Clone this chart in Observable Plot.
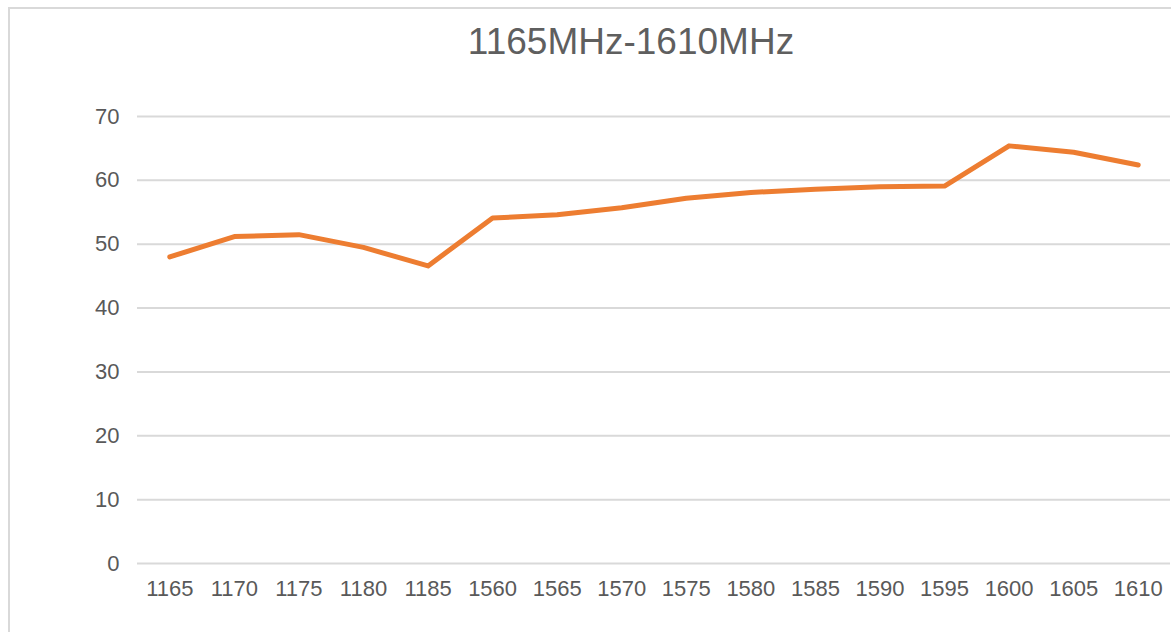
<!DOCTYPE html>
<html>
<head>
<meta charset="utf-8">
<script src="https://cdn.jsdelivr.net/npm/d3@7"></script>
<script src="https://cdn.jsdelivr.net/npm/@observablehq/plot@0.6"></script>
<style>
  html, body { margin: 0; padding: 0; background: #fff; }
  #wrap { position: relative; width: 1171px; height: 632px; overflow: hidden; background: #fff; }
  #border { position: absolute; left: 8px; top: 7px; width: 1300px; height: 800px; border: 2px solid #d9d9d9; box-sizing: border-box; }
  #title { position: absolute; left: 0; top: 20px; width: 1262px; text-align: center;
           font-family: "Liberation Sans Narrow", "Liberation Sans", sans-serif; font-size: 37px; color: #5f5f5f;
           line-height: 44px; }
  #chart { position: absolute; left: 0; top: 0; }
</style>
</head>
<body>
<div id="wrap">
  <div id="border"></div>
  <div id="chart"></div>
  <div id="title">1165MHz-1610MHz</div>
</div>
<script>
const frequencies = ["1165","1170","1175","1180","1185","1560","1565","1570","1575","1580","1585","1590","1595","1600","1605","1610"];
const values = [48.0, 51.2, 51.5, 49.5, 46.6, 54.1, 54.6, 55.7, 57.2, 58.1, 58.6, 59.0, 59.1, 65.4, 64.4, 62.4];
const yTicks = [0, 10, 20, 30, 40, 50, 60, 70];
const titleText = "1165MHz-1610MHz";

document.getElementById("title").textContent = titleText;
const data = frequencies.map((f, i) => ({f, v: values[i]}));

const chart = Plot.plot({
  width: 1171,
  height: 632,
  marginLeft: 137,
  marginRight: 1,
  marginTop: 116,
  marginBottom: 69,
  style: {background: "transparent", fontFamily: "'Liberation Sans', Arial, sans-serif", fontSize: "22px", color: "#595959"},
  x: {type: "point", domain: frequencies, padding: 0.5, round: false, label: null},
  y: {domain: [0, 70], label: null},
  marks: [
    Plot.gridY(yTicks, {stroke: "#d9d9d9", strokeOpacity: 1, strokeWidth: 2}),
    Plot.axisY(yTicks, {tickSize: 0, tickPadding: 18, fill: "#595959", fontSize: 22, label: null}),
    Plot.axisX({tickSize: 0, tickPadding: 17, fill: "#595959", fontSize: 22, label: null}),
    Plot.line(data, {x: "f", y: "v", stroke: "#ED7D31", strokeWidth: 5, strokeLinecap: "round", strokeLinejoin: "round"})
  ]
});
document.getElementById("chart").appendChild(chart);
</script>
</body>
</html>
